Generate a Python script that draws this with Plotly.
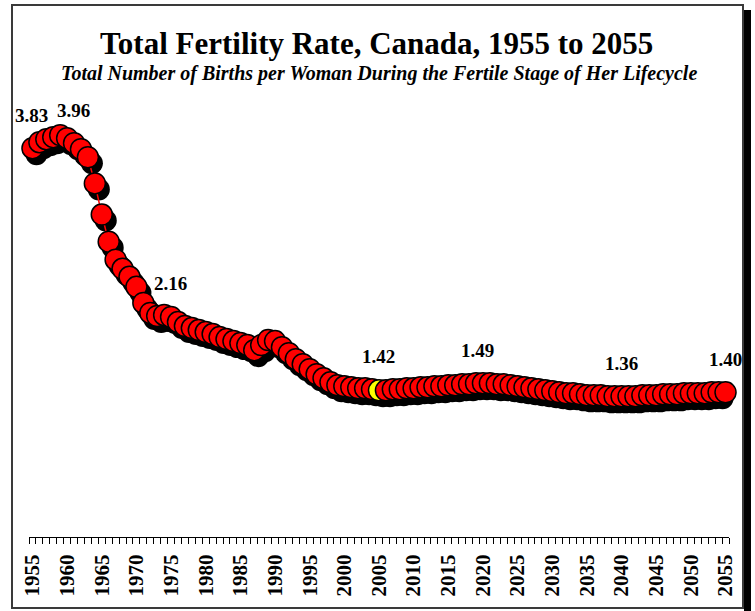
import plotly.graph_objects as go

# Total fertility rate, Canada
years = list(range(1955, 2056))
tfr = [
    3.83, 3.89, 3.92, 3.94, 3.96, 3.93, 3.88, 3.82, 3.74, 3.48,  # 1955-1964
    3.17, 2.90, 2.72, 2.63, 2.55, 2.45, 2.29, 2.19, 2.16, 2.17,  # 1965-1974
    2.15, 2.10, 2.06, 2.04, 2.02, 2.00, 1.98, 1.95, 1.93, 1.91,  # 1975-1984
    1.89, 1.87, 1.82, 1.87, 1.92, 1.91, 1.85, 1.79, 1.73, 1.68,  # 1985-1994
    1.63, 1.58, 1.54, 1.50, 1.47, 1.46, 1.45, 1.44, 1.44, 1.43,  # 1995-2004
    1.42, 1.42, 1.43, 1.43, 1.44, 1.44, 1.45, 1.45, 1.46, 1.46,  # 2005-2014
    1.47, 1.47, 1.48, 1.48, 1.49, 1.49, 1.49, 1.48, 1.48, 1.47,  # 2015-2024
    1.46, 1.45, 1.44, 1.43, 1.42, 1.41, 1.40, 1.39, 1.39, 1.38,  # 2025-2034
    1.37, 1.37, 1.37, 1.36, 1.36, 1.36, 1.36, 1.36, 1.37, 1.37,  # 2035-2044
    1.37, 1.38, 1.38, 1.38, 1.39, 1.39, 1.39, 1.39, 1.40, 1.40,  # 2045-2054
    1.40,                                                        # 2055
]
highlight_year = 2005
tick_years = list(range(1955, 2056, 5))

# labelled points: (year, text, xshift, yshift)
point_labels = [
    (1955, "3.83", -1, 33),
    (1959, "3.96", 13, 25),
    (1973, "2.16", 13, 32),
    (2005, "1.42", -1, 34),
    (2019, "1.49", 1, 33),
    (2040, "1.36", 0, 33),
    (2055, "1.40", 0, 33),
]

SERIF = "Times New Roman, Liberation Serif, serif"
W, H = 755, 611
ML, MR, MT, MB = 29, 26, 100, 74
PW, PH = W - ML - MR, H - MT - MB

XR = [1954.5, 2055.5]
YR = [-0.04, 4.31]
SHADOW_X, SHADOW_Y = 4, 6  # px offset of marker shadow


def fx(px):
    return (px - ML) / PW


def fy(py):
    return (H - MB - py) / PH


dx = SHADOW_X * (XR[1] - XR[0]) / PW
dy = SHADOW_Y * (YR[1] - YR[0]) / PH

colors = ["#FFFF00" if y == highlight_year else "#FF0000" for y in years]

fig = go.Figure()
# shadow (drawn on shifted axes, underneath)
fig.add_trace(
    go.Scatter(
        x=years, y=tfr, mode="markers", xaxis="x", yaxis="y",
        marker=dict(size=22, color="black", line=dict(width=0)),
        cliponaxis=False, hoverinfo="skip", showlegend=False,
    )
)
fig.add_trace(
    go.Scatter(
        x=years, y=tfr, mode="lines+markers", xaxis="x2", yaxis="y2",
        line=dict(color="#FF0000", width=1.5),
        marker=dict(size=21, color=colors, line=dict(color="black", width=1.5)),
        cliponaxis=False, showlegend=False,
    )
)

annotations = []
for yr, txt, xs, ys in point_labels:
    annotations.append(
        dict(
            x=yr, y=tfr[years.index(yr)], xref="x2", yref="y2", text=txt,
            showarrow=False, xanchor="center", yanchor="middle",
            xshift=xs, yshift=ys,
            font=dict(family=SERIF, size=19, color="black", weight="bold"),
        )
    )
annotations += [
    dict(
        x=fx(376), y=fy(44), xref="paper", yref="paper",
        text="<b>Total Fertility Rate, Canada, 1955 to 2055</b>",
        showarrow=False, xanchor="center", yanchor="middle",
        font=dict(family=SERIF, size=31, color="black"),
    ),
    dict(
        x=fx(379), y=fy(73), xref="paper", yref="paper",
        text="<b><i>Total Number of Births per Woman During the Fertile Stage of Her Lifecycle</i></b>",
        showarrow=False, xanchor="center", yanchor="middle",
        font=dict(family=SERIF, size=20, color="black"),
    ),
]

shapes = [
    dict(type="rect", xref="paper", yref="paper",
         x0=fx(744), x1=fx(751), y0=fy(615), y1=fy(10),
         fillcolor="black", line=dict(width=0), layer="below"),
    dict(type="rect", xref="paper", yref="paper",
         x0=fx(12), x1=fx(743), y0=fy(608), y1=fy(5),
         line=dict(color="#3a3a3a", width=2), layer="below"),
]

fig.update_layout(
    width=W, height=H,
    margin=dict(l=ML, r=MR, t=MT, b=MB, autoexpand=False),
    paper_bgcolor="white", plot_bgcolor="rgba(0,0,0,0)",
    showlegend=False,
    xaxis=dict(range=[XR[0] - dx, XR[1] - dx], visible=False, automargin=False),
    yaxis=dict(range=[YR[0] + dy, YR[1] + dy], visible=False, automargin=False),
    xaxis2=dict(
        range=XR, overlaying="x", anchor="y2", side="bottom",
        automargin=False,
        showline=True, linecolor="black", linewidth=1,
        showgrid=False, zeroline=False,
        tickvals=tick_years, ticktext=[str(t) for t in tick_years],
        ticks="outside", ticklen=8, tickcolor="rgba(0,0,0,0)",
        tickangle=-90,
        tickfont=dict(family=SERIF, size=21, color="black", weight="bold"),
        minor=dict(ticks="outside", ticklen=6, tickwidth=1, tickcolor="black",
                   tick0=1954.5, dtick=1, showgrid=False),
    ),
    yaxis2=dict(range=YR, overlaying="y", visible=False, automargin=False),
    annotations=annotations,
    shapes=shapes,
)

# the page's default body margin would push the figure off the window
fig.write_html(
    "out.html",
    config={"displayModeBar": False},
    post_script="document.body.style.margin='0px';",
)
